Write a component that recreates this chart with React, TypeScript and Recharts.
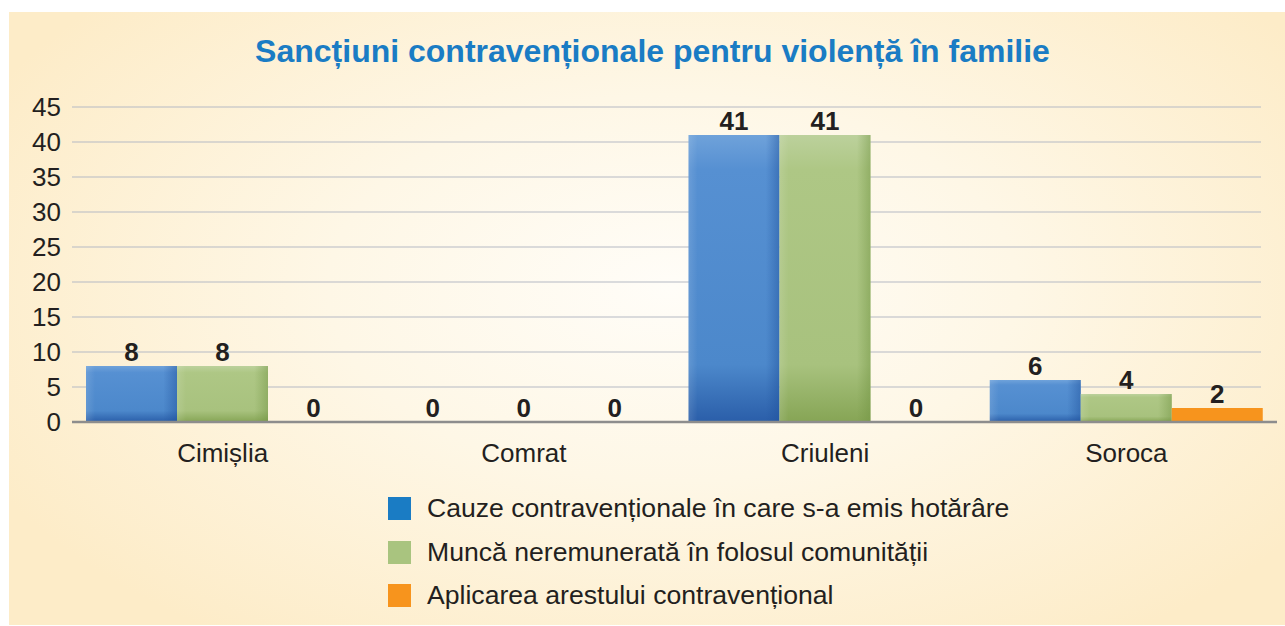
import React from "react";
import { BarChart, Bar, XAxis, YAxis, CartesianGrid, LabelList } from "recharts";

// categories and values
const districts = ["Cimișlia", "Comrat", "Criuleni", "Soroca"];
const cauze = [8, 0, 41, 6];
const munca = [8, 0, 41, 4];
const arest = [0, 0, 0, 2];
const seriesNames = [
    "Cauze contravenționale în care s-a emis hotărâre",
    "Muncă neremunerată în folosul comunității",
    "Aplicarea arestului contravențional",
];
const yTicks = [0, 5, 10, 15, 20, 25, 30, 35, 40, 45];

const data = districts.map((d, i) => ({ name: d, cauze: cauze[i], munca: munca[i], arest: arest[i] }));

const FONT = "'Liberation Sans', Arial, Helvetica, sans-serif";
const legendColors = ["#1a7cc4", "#a9c47f", "#f7941d"];
const labelStyle = { fill: "#231f20", fontSize: 26, fontWeight: "bold", fontFamily: FONT };

// glassy bar: vertical gradient + darker right edge
const glassBar = (grad: string, edge: string) => (props: any) => {
    const { x, y, width, height } = props;
    if (!height || height <= 0) return <g />;
    return (
        <g>
            <rect x={x} y={y} width={width} height={height} fill={`url(#${grad})`} />
            <rect x={x} y={y} width={width} height={height} fill={`url(#${edge})`} />
        </g>
    );
};

const flatBar = (color: string) => (props: any) => {
    const { x, y, width, height } = props;
    if (!height || height <= 0) return <g />;
    return <rect x={x} y={y} width={width} height={height} fill={color} />;
};

export default function App() {
    return (
        <div style={{ position: "absolute", left: 0, top: 0, width: 1285, height: 626, background: "#fff", fontFamily: FONT }}>
            <div
                style={{
                    position: "absolute",
                    left: 9,
                    top: 12,
                    width: 1276,
                    height: 613,
                    background: "radial-gradient(ellipse 60% 70% at 52% 45%, #fffdf8 0%, #fef7e6 45%, #fdecc8 100%)",
                }}
            />
            <div
                style={{
                    position: "absolute",
                    left: 0,
                    top: 31,
                    width: 1305,
                    textAlign: "center",
                    color: "#1a7cc4",
                    fontWeight: "bold",
                    fontSize: 32,
                    lineHeight: "40px",
                }}
            >
                Sancțiuni contravenționale pentru violență în familie
            </div>

            <div style={{ position: "absolute", left: 0, top: 0 }}>
                <BarChart
                    width={1285}
                    height={626}
                    data={data}
                    margin={{ top: 107, right: 8, left: 0, bottom: 144 }}
                    barGap={0}
                    barSize={91}
                >
                    <defs>
                        <linearGradient id="blueV" x1="0" y1="0" x2="0" y2="1">
                            <stop offset="0%" stopColor="#6fa2da" />
                            <stop offset="12%" stopColor="#5690d2" />
                            <stop offset="80%" stopColor="#4c88cb" />
                            <stop offset="100%" stopColor="#2a5ea9" />
                        </linearGradient>
                        <linearGradient id="blueH" x1="0" y1="0" x2="1" y2="0">
                            <stop offset="0%" stopColor="#ffffff" stopOpacity={0.12} />
                            <stop offset="10%" stopColor="#ffffff" stopOpacity={0} />
                            <stop offset="85%" stopColor="#1d4f9a" stopOpacity={0} />
                            <stop offset="100%" stopColor="#1d4f9a" stopOpacity={0.45} />
                        </linearGradient>
                        <linearGradient id="greenV" x1="0" y1="0" x2="0" y2="1">
                            <stop offset="0%" stopColor="#bcd19c" />
                            <stop offset="12%" stopColor="#aec785" />
                            <stop offset="80%" stopColor="#a8c27e" />
                            <stop offset="100%" stopColor="#86a555" />
                        </linearGradient>
                        <linearGradient id="greenH" x1="0" y1="0" x2="1" y2="0">
                            <stop offset="0%" stopColor="#ffffff" stopOpacity={0.12} />
                            <stop offset="10%" stopColor="#ffffff" stopOpacity={0} />
                            <stop offset="85%" stopColor="#6f9240" stopOpacity={0} />
                            <stop offset="100%" stopColor="#6f9240" stopOpacity={0.45} />
                        </linearGradient>
                    </defs>
                    <CartesianGrid
                        vertical={false}
                        horizontal={(p: any) => (
                            <line key={p.key ?? `g-${p.index}`} x1={p.x1} x2={p.x2 - 16} y1={p.y1} y2={p.y2} stroke="#b6bac3" strokeWidth={1.2} />
                        )}
                    />
                    <XAxis
                        dataKey="name"
                        axisLine={{ stroke: "#8d8d8d", strokeWidth: 2.5 }}
                        tickLine={false}
                        tickSize={0}
                        tickMargin={22}
                        height={60}
                        tick={{ fill: "#231f20", fontSize: 26, fontFamily: FONT }}
                        interval={0}
                    />
                    <YAxis
                        domain={[0, 45]}
                        ticks={yTicks}
                        interval={0}
                        axisLine={false}
                        tickLine={false}
                        tickSize={0}
                        tickMargin={11}
                        width={72}
                        tick={{ fill: "#231f20", fontSize: 26, fontFamily: FONT }}
                    />
                    <Bar dataKey="cauze" name={seriesNames[0]} shape={glassBar("blueV", "blueH")} isAnimationActive={false}>
                        <LabelList dataKey="cauze" position="top" offset={5} style={labelStyle} />
                    </Bar>
                    <Bar dataKey="munca" name={seriesNames[1]} shape={glassBar("greenV", "greenH")} isAnimationActive={false}>
                        <LabelList dataKey="munca" position="top" offset={5} style={labelStyle} />
                    </Bar>
                    <Bar dataKey="arest" name={seriesNames[2]} shape={flatBar("#f7941d")} isAnimationActive={false}>
                        <LabelList dataKey="arest" position="top" offset={5} style={labelStyle} />
                    </Bar>
                </BarChart>
            </div>

            {/* legend */}
            <div style={{ position: "absolute", left: 388, top: 487 }}>
                {seriesNames.map((n, i) => (
                    <div key={n} style={{ display: "flex", alignItems: "center", height: 43.5 }}>
                        <div style={{ width: 23, height: 23, background: legendColors[i], marginRight: 16 }} />
                        <span style={{ fontSize: 26.6, color: "#231f20", whiteSpace: "nowrap" }}>{n}</span>
                    </div>
                ))}
            </div>
        </div>
    );
}
